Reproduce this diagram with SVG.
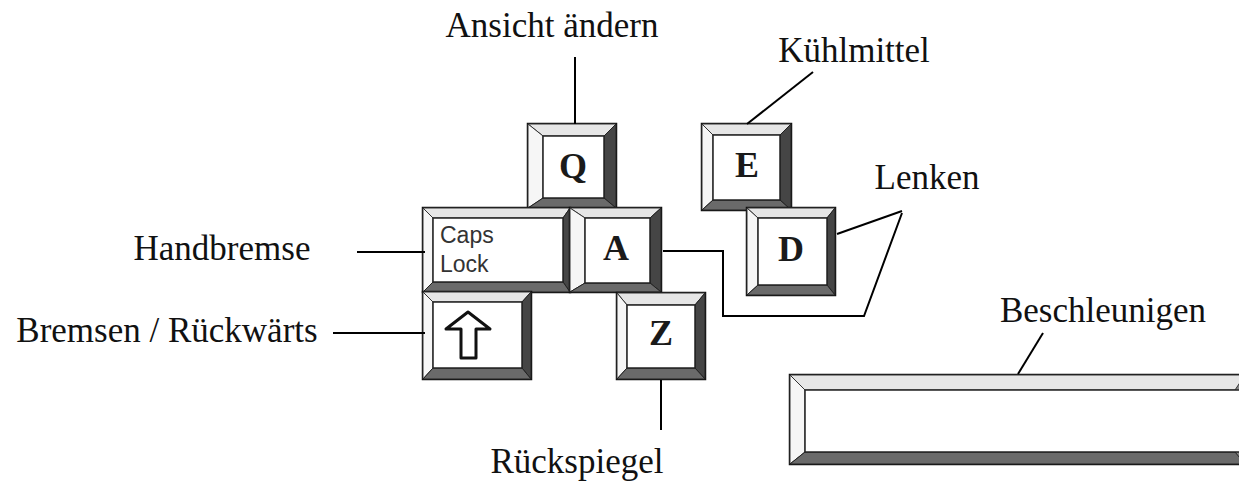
<svg xmlns="http://www.w3.org/2000/svg" width="1239" height="489" viewBox="0 0 1239 489">
<style>
.lbl{font-family:"Liberation Serif","Times New Roman",serif;font-size:35px;fill:#111;text-anchor:middle}
.key{font-family:"Liberation Serif","Times New Roman",serif;font-size:36px;font-weight:bold;fill:#1a1a1a;text-anchor:middle}
.caps{font-family:"Liberation Sans",Arial,sans-serif;font-size:23px;fill:#333}
.outer{fill:#888;stroke:#111;stroke-width:2.5}
.bt{fill:#e6e6e6;stroke:#333;stroke-width:1}
.bl{fill:#f6f6f6;stroke:#333;stroke-width:1}
.br{fill:#454545;stroke:#222;stroke-width:1}
.bb{fill:#6a6a6a;stroke:#222;stroke-width:1}
.face{fill:#fff;stroke:#222;stroke-width:1.5}
.conn{fill:none;stroke:#000;stroke-width:2}
</style>
<g id="key-q">
<rect class="outer" x="528" y="124" width="88" height="84"/>
<polygon class="bt" points="528,124 616,124 604,136 543,136"/>
<polygon class="bl" points="528,124 543,136 543,198 528,208"/>
<polygon class="br" points="616,124 616,208 604,198 604,136"/>
<polygon class="bb" points="528,208 543,198 604,198 616,208"/>
<rect class="face" x="543" y="136" width="61" height="62"/>
<text class="key" x="573" y="178">Q</text>
</g>
<g id="key-e">
<rect class="outer" x="702" y="124" width="89" height="86"/>
<polygon class="bt" points="702,124 791,124 780,135 713,135"/>
<polygon class="bl" points="702,124 713,135 713,200 702,210"/>
<polygon class="br" points="791,124 791,210 780,200 780,135"/>
<polygon class="bb" points="702,210 713,200 780,200 791,210"/>
<rect class="face" x="713" y="135" width="67" height="65"/>
<text class="key" x="747" y="177">E</text>
</g>
<g id="key-d">
<rect class="outer" x="747" y="208" width="88" height="87"/>
<polygon class="bt" points="747,208 835,208 827,218 758,218"/>
<polygon class="bl" points="747,208 758,218 758,285 747,295"/>
<polygon class="br" points="835,208 835,295 827,285 827,218"/>
<polygon class="bb" points="747,295 758,285 827,285 835,295"/>
<rect class="face" x="758" y="218" width="69" height="67"/>
<text class="key" x="791" y="261">D</text>
</g>
<g id="key-capslock">
<rect class="outer" x="423" y="208" width="147" height="84"/>
<polygon class="bt" points="423,208 570,208 563,218 433,218"/>
<polygon class="bl" points="423,208 433,218 433,282 423,292"/>
<polygon class="br" points="570,208 570,292 563,282 563,218"/>
<polygon class="bb" points="423,292 433,282 563,282 570,292"/>
<rect class="face" x="433" y="218" width="130" height="64"/>
<text class="caps" x="440" y="243">Caps</text>
<text class="caps" x="440" y="272">Lock</text>
</g>
<g id="key-a">
<rect class="outer" x="570" y="208" width="91" height="84"/>
<polygon class="bt" points="570,208 661,208 650,218 585,218"/>
<polygon class="bl" points="570,208 585,218 585,283 570,292"/>
<polygon class="br" points="661,208 661,292 650,283 650,218"/>
<polygon class="bb" points="570,292 585,283 650,283 661,292"/>
<rect class="face" x="585" y="218" width="65" height="65"/>
<text class="key" x="616" y="260">A</text>
</g>
<g id="key-shift">
<rect class="outer" x="423" y="292" width="108" height="87"/>
<polygon class="bt" points="423,292 531,292 522,302 433,302"/>
<polygon class="bl" points="423,292 433,302 433,368 423,379"/>
<polygon class="br" points="531,292 531,379 522,368 522,302"/>
<polygon class="bb" points="423,379 433,368 522,368 531,379"/>
<rect class="face" x="433" y="302" width="89" height="66"/>
<polygon points="468,312 490,329 476,329 476,358 461,358 461,329 446,329" fill="#fff" stroke="#111" stroke-width="3" stroke-linejoin="round"/>
</g>
<g id="key-z">
<rect class="outer" x="617" y="293" width="88" height="86"/>
<polygon class="bt" points="617,293 705,293 695,305 627,305"/>
<polygon class="bl" points="617,293 627,305 627,368 617,379"/>
<polygon class="br" points="705,293 705,379 695,368 695,305"/>
<polygon class="bb" points="617,379 627,368 695,368 705,379"/>
<rect class="face" x="627" y="305" width="68" height="63"/>
<text class="key" x="661" y="345">Z</text>
</g>
<g id="key-space">
<rect class="outer" x="790" y="375" width="455" height="89"/>
<polygon class="bt" points="790,375 1245,375 1235,390 805,390"/>
<polygon class="bl" points="790,375 805,390 805,452 790,464"/>
<polygon class="bb" points="790,464 805,452 1235,452 1245,464"/>
<rect class="face" x="805" y="390" width="440" height="62"/>
</g>
<g id="connectors">
<path class="conn" d="M575,57 V124"/>
<path class="conn" d="M813,72 L747,124"/>
<path class="conn" d="M902,211 L837,234"/>
<path class="conn" d="M902,213 L864,316 H723 V251 H663"/>
<path class="conn" d="M357,252 H425"/>
<path class="conn" d="M333,333 H425"/>
<path class="conn" d="M661,380 V430"/>
<path class="conn" d="M1043,333 L1018,374"/>
</g>
<g id="labels">
<text class="lbl" x="552" y="37">Ansicht ändern</text>
<text class="lbl" x="854" y="62">Kühlmittel</text>
<text class="lbl" x="927" y="189">Lenken</text>
<text class="lbl" x="222" y="260">Handbremse</text>
<text class="lbl" x="167" y="342">Bremsen / Rückwärts</text>
<text class="lbl" x="577" y="473">Rückspiegel</text>
<text class="lbl" x="1103" y="322">Beschleunigen</text>
</g>
</svg>
